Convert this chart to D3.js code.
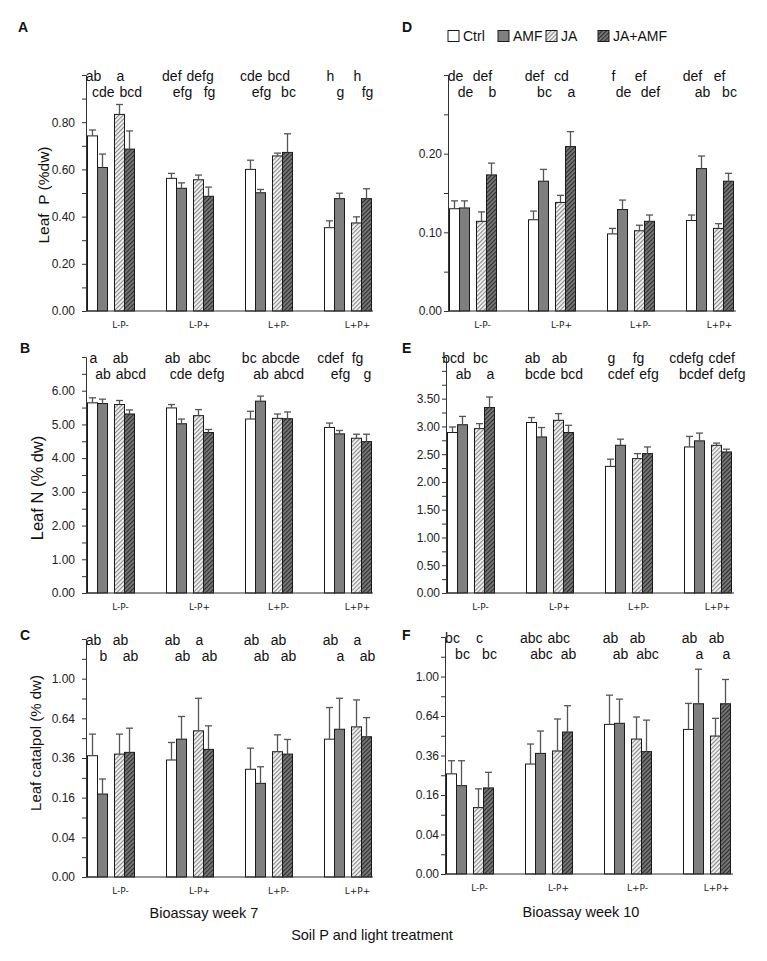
<!DOCTYPE html>
<html><head><meta charset="utf-8">
<script src="https://cdn.jsdelivr.net/npm/d3@7"></script>
<style>body{margin:0;background:#fff}</style>
</head><body>
<svg id="c" width="767" height="961" xmlns="http://www.w3.org/2000/svg"></svg>
<script>
// ---------- DATA ----------
const categories = ["L-P-", "L-P+", "L+P-", "L+P+"];
const seriesNames = ["Ctrl", "AMF", "JA", "JA+AMF"];

// Panel A: Leaf P, week 7
const aCtrl = [0.742, 0.562, 0.600, 0.353];
const aAMF = [0.608, 0.520, 0.501, 0.476];
const aJA = [0.833, 0.556, 0.657, 0.373];
const aJAAMF = [0.686, 0.486, 0.672, 0.476];
const aCtrlSE = [0.025, 0.021, 0.039, 0.029];
const aAMFSE = [0.057, 0.023, 0.014, 0.023];
const aJASE = [0.042, 0.020, 0.012, 0.026];
const aJAAMFSE = [0.077, 0.039, 0.079, 0.042];
const aCtrlLet = ["ab", "def", "cde", "h"];
const aAMFLet = ["cde", "efg", "efg", "g"];
const aJALet = ["a", "defg", "bcd", "h"];
const aJAAMFLet = ["bcd", "fg", "bc", "fg"];
const aTickLabels = [0, 0.2, 0.4, 0.6, 0.8];

// Panel B: Leaf N, week 7
const bCtrl = [5.64, 5.49, 5.16, 4.91];
const bAMF = [5.62, 5.02, 5.69, 4.72];
const bJA = [5.59, 5.26, 5.18, 4.59];
const bJAAMF = [5.31, 4.76, 5.17, 4.49];
const bCtrlSE = [0.15, 0.10, 0.23, 0.13];
const bAMFSE = [0.13, 0.14, 0.15, 0.10];
const bJASE = [0.12, 0.18, 0.13, 0.12];
const bJAAMFSE = [0.12, 0.09, 0.20, 0.22];
const bCtrlLet = ["a", "ab", "bc", "cdef"];
const bAMFLet = ["ab", "cde", "ab", "efg"];
const bJALet = ["ab", "abc", "abcde", "fg"];
const bJAAMFLet = ["abcd", "defg", "abcd", "g"];
const bTickLabels = [0, 1, 2, 3, 4, 5, 6];

// Panel C: Leaf catalpol, week 7 (square-root axis)
const cCtrl = [0.374, 0.348, 0.295, 0.483];
const cAMF = [0.175, 0.483, 0.223, 0.555];
const cJA = [0.384, 0.543, 0.399, 0.573];
const cJAAMF = [0.395, 0.414, 0.384, 0.500];
const cCtrlSE = [0.145, 0.112, 0.127, 0.247];
const cAMFSE = [0.069, 0.172, 0.086, 0.257];
const cJASE = [0.135, 0.269, 0.115, 0.224];
const cJAAMFSE = [0.168, 0.167, 0.097, 0.146];
const cCtrlLet = ["ab", "ab", "ab", "ab"];
const cAMFLet = ["b", "ab", "ab", "a"];
const cJALet = ["ab", "a", "ab", "a"];
const cJAAMFLet = ["ab", "ab", "ab", "ab"];
const cTickLabels = [0, 0.04, 0.16, 0.36, 0.64, 1.00];

// Panel D: Leaf P, week 10
const dCtrl = [0.130, 0.116, 0.098, 0.115];
const dAMF = [0.131, 0.165, 0.129, 0.181];
const dJA = [0.114, 0.138, 0.102, 0.105];
const dJAAMF = [0.173, 0.209, 0.114, 0.165];
const dCtrlSE = [0.010, 0.011, 0.007, 0.007];
const dAMFSE = [0.009, 0.015, 0.012, 0.016];
const dJASE = [0.012, 0.009, 0.007, 0.006];
const dJAAMFSE = [0.015, 0.019, 0.008, 0.010];
const dCtrlLet = ["de", "def", "f", "def"];
const dAMFLet = ["de", "bc", "de", "ab"];
const dJALet = ["def", "cd", "ef", "ef"];
const dJAAMFLet = ["b", "a", "def", "bc"];
const dTickLabels = [0, 0.1, 0.2];

// Panel E: Leaf N, week 10
const eCtrl = [2.89, 3.07, 2.28, 2.63];
const eAMF = [3.03, 2.81, 2.66, 2.74];
const eJA = [2.96, 3.11, 2.42, 2.66];
const eJAAMF = [3.34, 2.89, 2.51, 2.54];
const eCtrlSE = [0.10, 0.09, 0.13, 0.19];
const eAMFSE = [0.15, 0.17, 0.11, 0.14];
const eJASE = [0.09, 0.12, 0.09, 0.04];
const eJAAMFSE = [0.19, 0.13, 0.12, 0.05];
const eCtrlLet = ["bcd", "ab", "g", "cdefg"];
const eAMFLet = ["ab", "bcde", "cdef", "bcdef"];
const eJALet = ["bc", "ab", "fg", "cdef"];
const eJAAMFLet = ["a", "bcd", "efg", "defg"];
const eTickLabels = [0, 0.5, 1, 1.5, 2, 2.5, 3, 3.5];

// Panel F: Leaf catalpol, week 10 (square-root axis)
const fCtrl = [0.257, 0.310, 0.574, 0.536];
const fAMF = [0.200, 0.373, 0.582, 0.743];
const fJA = [0.113, 0.388, 0.467, 0.488];
const fJAAMF = [0.190, 0.517, 0.384, 0.743];
const fCtrlSE = [0.072, 0.123, 0.246, 0.210];
const fAMFSE = [0.129, 0.151, 0.202, 0.332];
const fJASE = [0.073, 0.228, 0.165, 0.133];
const fJAAMFSE = [0.075, 0.209, 0.223, 0.227];
const fCtrlLet = ["bc", "abc", "ab", "ab"];
const fAMFLet = ["bc", "abc", "ab", "a"];
const fJALet = ["c", "abc", "ab", "ab"];
const fJAAMFLet = ["bc", "ab", "abc", "a"];
const fTickLabels = [0, 0.04, 0.16, 0.36, 0.64, 1.00];

// ---------- LAYOUT ----------
const FONT = "'Liberation Sans', Arial, sans-serif";
const svg = d3.select("#c");
const defs = svg.append("defs");

function hatch(id, bg, fg) {
  const p = defs.append("pattern").attr("id", id).attr("patternUnits", "userSpaceOnUse")
    .attr("width", 3).attr("height", 3).attr("patternTransform", "rotate(45)");
  p.append("rect").attr("width", 3).attr("height", 3).attr("fill", bg);
  p.append("rect").attr("x", 0).attr("width", 1.1).attr("height", 3).attr("fill", fg);
}
hatch("hJA", "#f2f2f2", "#8a8a8a");
hatch("hJAAMF", "#777", "#2e2e2e");
const fills = ["#ffffff", "#7f7f7f", "url(#hJA)", "url(#hJAAMF)"];

const panels = [
  { id: "A", means: [aCtrl, aAMF, aJA, aJAAMF], se: [aCtrlSE, aAMFSE, aJASE, aJAAMFSE],
    lets: [aCtrlLet, aAMFLet, aJALet, aJAAMFLet], ticks: aTickLabels, type: "lin", max: 1.0, minor: 0.1,
    x0: 86, top: 75, bottom: 311, xEnd: 373, pad: 7, lx: 18, ly: 32, ylab: "Leaf  P (%dw)", yx: 43, yy: 195, yfs: 15.5 },
  { id: "B", means: [bCtrl, bAMF, bJA, bJAAMF], se: [bCtrlSE, bAMFSE, bJASE, bJAAMFSE],
    lets: [bCtrlLet, bAMFLet, bJALet, bJAAMFLet], ticks: bTickLabels, type: "lin", max: 7, minor: 0.5,
    x0: 86, top: 357, bottom: 593, xEnd: 373, pad: 7, lx: 20, ly: 353, ylab: "Leaf N (% dw)", yx: 37, yy: 488, yfs: 16.5 },
  { id: "C", means: [cCtrl, cAMF, cJA, cJAAMF], se: [cCtrlSE, cAMFSE, cJASE, cJAAMFSE],
    lets: [cCtrlLet, cAMFLet, cJALet, cJAAMFLet], ticks: cTickLabels, type: "sqrt", max: 1.44, minor: 0.1,
    x0: 86, top: 639, bottom: 877, xEnd: 373, pad: 7, lx: 20, ly: 640, ylab: "Leaf catalpol (% dw)", yx: 35, yy: 743, yfs: 15 },
  { id: "D", means: [dCtrl, dAMF, dJA, dJAAMF], se: [dCtrlSE, dAMFSE, dJASE, dJAAMFSE],
    lets: [dCtrlLet, dAMFLet, dJALet, dJAAMFLet], ticks: dTickLabels, type: "lin", max: 0.30, minor: 0.05,
    x0: 448, top: 75, bottom: 311, xEnd: 736, pad: 2, lx: 402, ly: 32 },
  { id: "E", means: [eCtrl, eAMF, eJA, eJAAMF], se: [eCtrlSE, eAMFSE, eJASE, eJAAMFSE],
    lets: [eCtrlLet, eAMFLet, eJALet, eJAAMFLet], ticks: eTickLabels, type: "lin", max: 4.25, minor: 0.25,
    x0: 446, top: 357, bottom: 593, xEnd: 734, pad: 2, lx: 402, ly: 353 },
  { id: "F", means: [fCtrl, fAMF, fJA, fJAAMF], se: [fCtrlSE, fAMFSE, fJASE, fJAAMFSE],
    lets: [fCtrlLet, fAMFLet, fJALet, fJAAMFLet], ticks: fTickLabels, type: "sqrt", max: 1.44, minor: 0.1,
    x0: 445, top: 637, bottom: 874, xEnd: 733, pad: 2, lx: 402, ly: 640 }
];

panels.forEach(p => {
  const g = svg.append("g");
  const y = (p.type === "sqrt" ? d3.scaleSqrt() : d3.scaleLinear())
    .domain([0, p.max]).range([p.bottom, p.top]);
  let tv;
  if (p.type === "sqrt") {
    const n = Math.round(Math.sqrt(p.max) / p.minor);
    tv = d3.range(0, n + 1).map(k => Math.pow(k * p.minor, 2));
  } else {
    const n = Math.round(p.max / p.minor);
    tv = d3.range(0, n + 1).map(k => k * p.minor);
  }
  const isLabel = v => p.ticks.some(t => Math.abs(t - v) < 1e-9);
  const axis = d3.axisLeft(y).tickValues(tv).tickSize(4).tickSizeOuter(4).tickPadding(p.pad)
    .tickFormat(d => isLabel(d) ? d3.format(".2f")(d) : "");
  const ag = g.append("g").attr("transform", `translate(${p.x0},0)`).call(axis);
  ag.selectAll("path, line").attr("stroke", "#333").attr("stroke-width", 1);
  ag.selectAll("text").attr("font-family", FONT).attr("font-size", 12).attr("fill", "#222");

  const x = d3.scaleBand().domain(categories)
    .range([p.x0 + 1.5, p.x0 + 1.5 + 3 * 79 + 47]).paddingInner(32 / 79).paddingOuter(0).align(0);
  const bw = x.bandwidth();
  const w = bw * 10 / 47, gap = bw - 4 * w;
  const offs = [0, w, 2 * w + gap, 3 * w + gap];

  seriesNames.forEach((s, j) => {
    categories.forEach((c, i) => {
      const v = p.means[j][i], e = p.se[j][i];
      const bx = x(c) + offs[j];
      const cx = bx + w / 2;
      g.append("rect").attr("x", bx).attr("y", y(v)).attr("width", w).attr("height", y(0) - y(v))
        .attr("fill", fills[j]).attr("stroke", "#1a1a1a").attr("stroke-width", 1);
      g.append("line").attr("x1", cx).attr("x2", cx).attr("y1", y(v)).attr("y2", y(v + e))
        .attr("stroke", "#555").attr("stroke-width", 1.3);
      g.append("line").attr("x1", cx - 3.5).attr("x2", cx + 3.5).attr("y1", y(v + e)).attr("y2", y(v + e))
        .attr("stroke", "#555").attr("stroke-width", 1.3);
    });
  });

  // significance letters: row 1 = Ctrl & JA, row 2 = AMF & JA+AMF
  const rows = [[0, 2], [1, 3]];
  categories.forEach((c, i) => {
    rows.forEach((pair, r) => {
      const ts = pair.map(j => {
        const cx = x(c) + offs[j] + w / 2 + 1;
        const t = g.append("text").attr("y", p.top + 6 + r * 16).attr("text-anchor", "middle")
          .attr("font-family", FONT).attr("font-size", 14).attr("fill", "#111").text(p.lets[j][i]);
        return { t, cx, wd: t.node().getComputedTextLength() };
      });
      const [L, R] = ts;
      const ov = (L.cx + L.wd / 2 + 5) - (R.cx - R.wd / 2);
      if (ov > 0) { L.cx -= ov / 2; R.cx += ov / 2; }
      ts.forEach(o => o.t.attr("x", o.cx));
    });
  });

  categories.forEach(c => {
    g.append("text").attr("x", x(c) + 33).attr("y", p.bottom + 17).attr("text-anchor", "middle")
      .attr("font-family", "'DejaVu Sans', Verdana, sans-serif").attr("font-size", 9).attr("fill", "#222").text(c);
  });
  g.append("line").attr("x1", p.x0).attr("x2", p.xEnd).attr("y1", p.bottom).attr("y2", p.bottom)
    .attr("stroke", "#333").attr("stroke-width", 1.2);
  g.append("text").attr("x", p.lx).attr("y", p.ly).attr("font-family", FONT).attr("font-weight", "bold")
    .attr("font-size", 14).attr("fill", "#111").text(p.id);
  if (p.ylab) {
    g.append("text").attr("transform", `translate(${p.yx},${p.yy}) rotate(-90)`)
      .attr("text-anchor", "middle").attr("dominant-baseline", "central").style("white-space", "pre")
      .attr("font-family", FONT).attr("font-size", p.yfs).attr("fill", "#111").text(p.ylab);
  }
});

// legend
const legX = [448, 498, 546, 598];
seriesNames.forEach((s, j) => {
  svg.append("rect").attr("x", legX[j]).attr("y", 30.5).attr("width", 11).attr("height", 11)
    .attr("fill", fills[j]).attr("stroke", "#1a1a1a").attr("stroke-width", 1);
  svg.append("text").attr("x", legX[j] + 15).attr("y", 41).attr("font-family", FONT)
    .attr("font-size", 14).attr("fill", "#111").text(s);
});

// bottom titles
svg.append("text").attr("x", 204).attr("y", 918).attr("text-anchor", "middle").attr("font-family", FONT)
  .attr("font-size", 14.5).attr("fill", "#111").text("Bioassay week 7");
svg.append("text").attr("x", 581).attr("y", 917).attr("text-anchor", "middle").attr("font-family", FONT)
  .attr("font-size", 14.5).attr("fill", "#111").text("Bioassay week 10");
svg.append("text").attr("x", 372).attr("y", 940).attr("text-anchor", "middle").attr("font-family", FONT)
  .attr("font-size", 14.5).attr("fill", "#111").text("Soil P and light treatment");
</script>
</body></html>
